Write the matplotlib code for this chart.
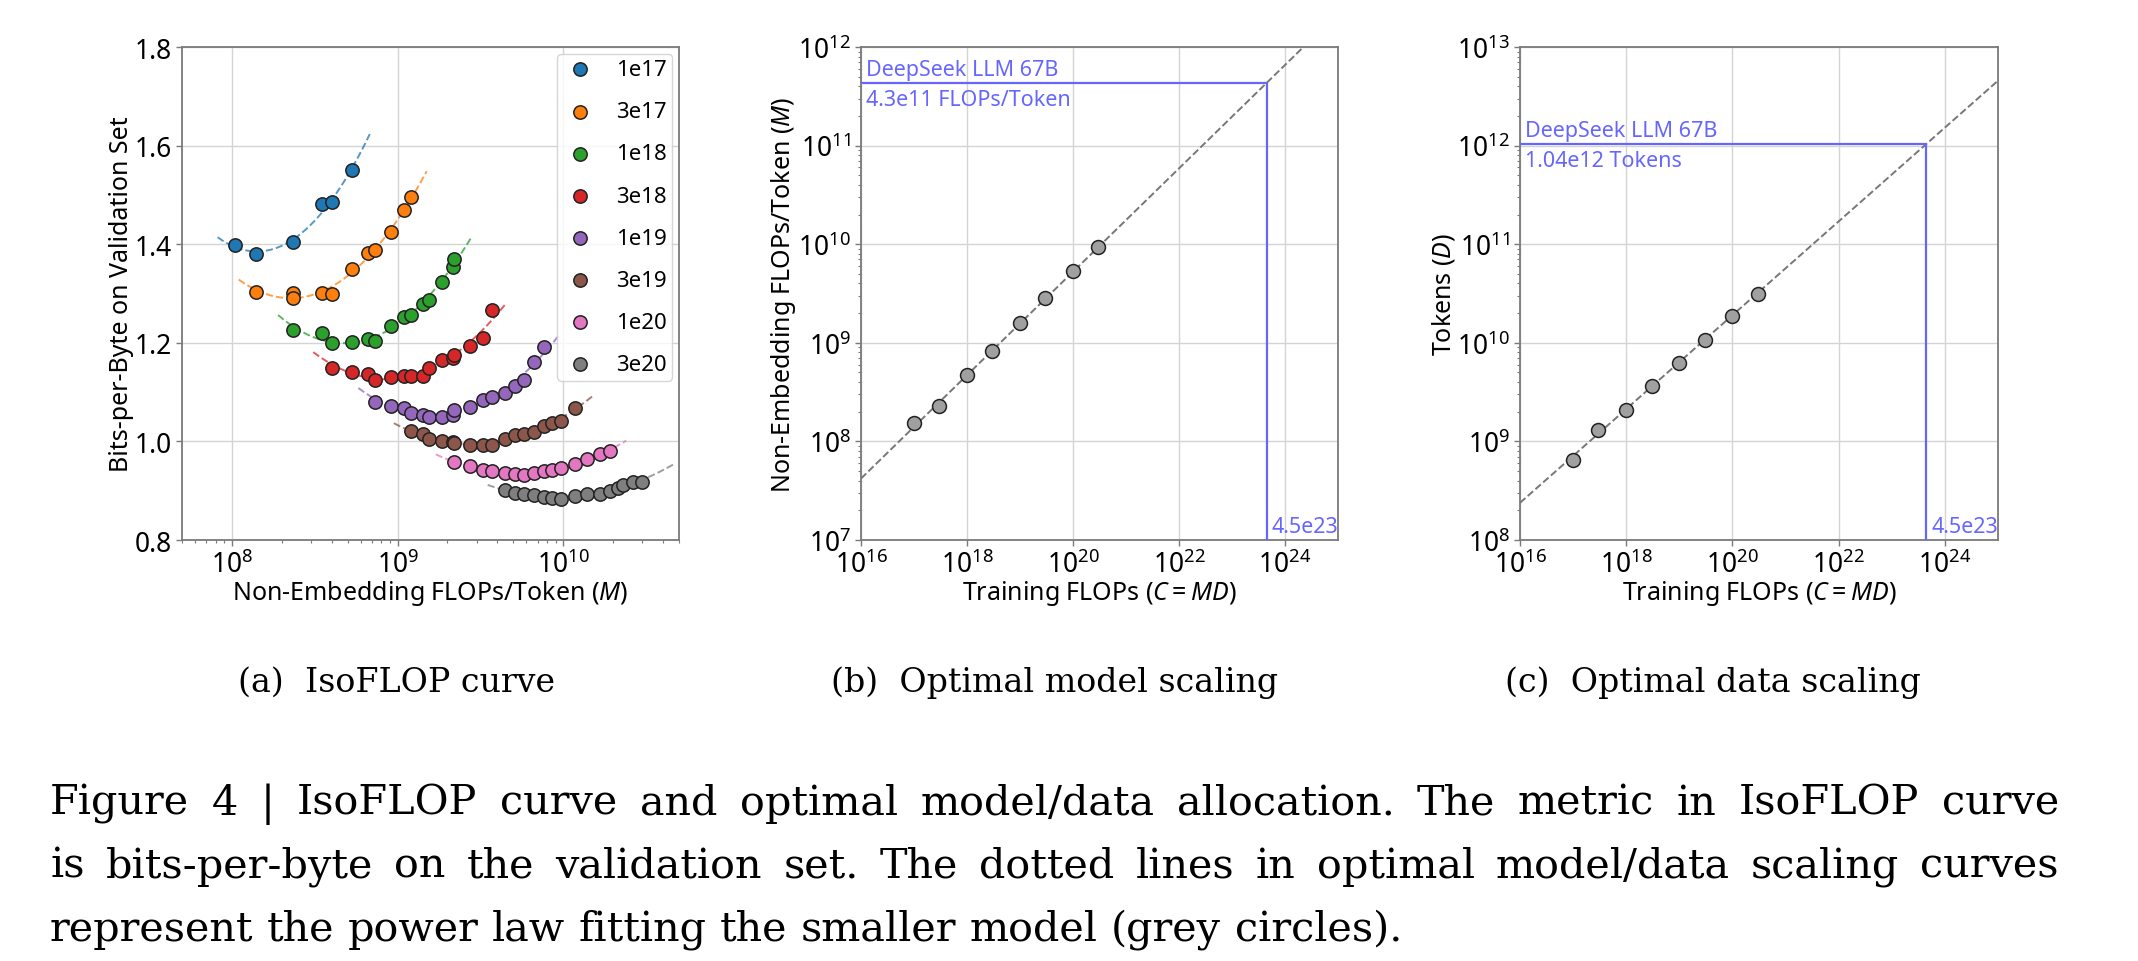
import numpy as np
import matplotlib
matplotlib.use("Agg")
import matplotlib.pyplot as plt
from matplotlib import ticker, transforms

plt.rcParams['font.family'] = ['Noto Sans', 'DejaVu Sans']
plt.rcParams['mathtext.fontset'] = 'custom'
plt.rcParams['mathtext.rm'] = 'Noto Sans'
plt.rcParams['mathtext.it'] = 'Noto Sans:italic'
plt.rcParams['mathtext.bf'] = 'Noto Sans:bold'

# ---- (a) IsoFLOP curves: model size (FLOPs/token) vs bits-per-byte ----
budgets = ['1e17', '3e17', '1e18', '3e18', '1e19', '3e19', '1e20', '3e20']
colors = ['tab:blue', 'tab:orange', 'tab:green', 'tab:red',
          'tab:purple', 'tab:brown', 'tab:pink', 'tab:gray']

m_1e17 = [1.04e8, 1.40e8, 2.35e8, 3.52e8, 4.02e8, 5.31e8]
bpb_1e17 = [1.398, 1.381, 1.404, 1.481, 1.485, 1.551]

m_3e17 = [1.40e8, 2.33e8, 2.35e8, 3.52e8, 4.02e8, 5.31e8, 6.61e8, 7.36e8, 9.16e8, 1.10e9, 1.21e9]
bpb_3e17 = [1.304, 1.301, 1.291, 1.302, 1.300, 1.349, 1.383, 1.388, 1.424, 1.470, 1.496]

m_1e18 = [2.35e8, 3.52e8, 4.02e8, 5.31e8, 6.61e8, 7.36e8, 9.16e8, 1.10e9, 1.21e9, 1.43e9,
          1.54e9, 1.85e9, 2.15e9, 2.18e9]
bpb_1e18 = [1.225, 1.219, 1.200, 1.201, 1.208, 1.204, 1.235, 1.252, 1.257, 1.278,
            1.286, 1.323, 1.354, 1.370]

m_3e18 = [4.02e8, 5.31e8, 6.61e8, 7.36e8, 9.16e8, 1.10e9, 1.21e9, 1.43e9, 1.54e9, 1.85e9,
          2.15e9, 2.18e9, 2.74e9, 3.27e9, 3.71e9]
bpb_3e18 = [1.149, 1.141, 1.137, 1.125, 1.130, 1.133, 1.132, 1.133, 1.148, 1.166,
            1.170, 1.175, 1.194, 1.209, 1.267]

m_1e19 = [7.36e8, 9.16e8, 1.10e9, 1.21e9, 1.43e9, 1.54e9, 1.85e9, 2.15e9, 2.18e9, 2.74e9,
          3.27e9, 3.71e9, 4.43e9, 5.14e9, 5.77e9, 6.71e9, 7.66e9]
bpb_1e19 = [1.079, 1.072, 1.067, 1.057, 1.054, 1.049, 1.050, 1.054, 1.064, 1.070,
            1.083, 1.091, 1.099, 1.113, 1.125, 1.161, 1.191]

m_3e19 = [1.21e9, 1.43e9, 1.54e9, 1.85e9, 2.15e9, 2.18e9, 2.74e9, 3.27e9, 3.71e9, 4.43e9,
          5.14e9, 5.77e9, 6.71e9, 7.66e9, 8.53e9, 9.75e9, 1.18e10]
bpb_3e19 = [1.021, 1.015, 1.005, 1.001, 0.999, 0.996, 0.993, 0.992, 0.993, 1.004,
            1.012, 1.015, 1.020, 1.032, 1.037, 1.041, 1.067]

m_1e20 = [2.18e9, 2.74e9, 3.27e9, 3.71e9, 4.43e9, 5.14e9, 5.77e9, 6.71e9, 7.66e9, 8.53e9,
          9.75e9, 1.18e10, 1.39e10, 1.67e10, 1.92e10]
bpb_1e20 = [0.958, 0.950, 0.943, 0.939, 0.936, 0.933, 0.932, 0.936, 0.940, 0.941,
            0.947, 0.954, 0.964, 0.975, 0.980]

m_3e20 = [4.43e9, 5.14e9, 5.77e9, 6.71e9, 7.66e9, 8.53e9, 9.75e9, 1.18e10, 1.39e10, 1.67e10,
          1.92e10, 2.14e10, 2.30e10, 2.64e10, 3.00e10]
bpb_3e20 = [0.901, 0.896, 0.894, 0.891, 0.887, 0.885, 0.883, 0.889, 0.893, 0.894,
            0.900, 0.905, 0.911, 0.917, 0.918]

# span of each dashed quadratic fit (FLOPs/token)
fit_start = [8.2e7, 1.1e8, 1.9e8, 3.1e8, 5.8e8, 9.5e8, 1.7e9, 3.5e9]
fit_end = [6.8e8, 1.5e9, 2.8e9, 4.5e9, 9.5e9, 1.5e10, 2.4e10, 4.6e10]

iso_m = [m_1e17, m_3e17, m_1e18, m_3e18, m_1e19, m_3e19, m_1e20, m_3e20]
iso_bpb = [bpb_1e17, bpb_3e17, bpb_1e18, bpb_3e18, bpb_1e19, bpb_3e19, bpb_1e20, bpb_3e20]

# ---- (b)/(c) optimal allocation per compute budget ----
compute = [1e17, 3e17, 1e18, 3e18, 1e19, 3e19, 1e20, 3e20]
opt_m = [1.53e8, 2.27e8, 4.75e8, 8.24e8, 1.58e9, 2.83e9, 5.34e9, 9.44e9]
opt_d = [6.45e8, 1.31e9, 2.09e9, 3.63e9, 6.25e9, 1.06e10, 1.88e10, 3.16e10]

# power law fits M = a*C^b, D = a*C^b
m_coef, m_exp = 0.1715, 0.5243
d_coef, d_exp = 5.8316, 0.4757

target_c = 4.5e23
target_m = 4.3e11
target_d = 1.04e12

W, H, DPI = 2138, 962, 100
fig = plt.figure(figsize=(W / DPI, H / DPI), dpi=DPI)
BLUE = '#6666ff'
LABEL_FS = 18
TICK_FS = 19
NOTE_FS = 15.5


def px_axes(left, top, right, bottom):
    return fig.add_axes([left / W, 1 - bottom / H, (right - left) / W, (bottom - top) / H])


def style(ax):
    ax.grid(True, which='major', color='#d4d4d4', linewidth=1.0)
    ax.set_axisbelow(True)
    for s in ax.spines.values():
        s.set_color('#7a7a7a')
        s.set_linewidth(1.3)
    ax.tick_params(which='both', colors='#7a7a7a', labelcolor='black', direction='out')
    ax.tick_params(which='major', labelsize=TICK_FS, length=4, width=1)
    ax.tick_params(which='minor', length=2.5, width=0.8)


ax1 = px_axes(182, 48, 679, 541)
ax2 = px_axes(861, 48, 1338, 541)
ax3 = px_axes(1520, 48, 1998, 541)

# (a)
for x, y, c, lab, x0, x1 in zip(iso_m, iso_bpb, colors, budgets, fit_start, fit_end):
    coef = np.polyfit(np.log10(x), y, 2)
    xs = np.logspace(np.log10(x0), np.log10(x1), 200)
    ax1.plot(xs, np.polyval(coef, np.log10(xs)), '--', color=c, alpha=0.75, lw=1.4, zorder=2)
    ax1.scatter(x, y, s=92, color=c, edgecolors='#222222', linewidths=1.1, label=lab, zorder=3)
ax1.set_xscale('log')
ax1.set_xlim(5e7, 5e10)
ax1.set_ylim(0.8, 1.8)
ax1.set_yticks(np.arange(0.8, 1.81, 0.2))
ax1.yaxis.set_major_formatter(ticker.FormatStrFormatter('%.1f'))
ax1.set_xlabel('Non-Embedding FLOPs/Token ($M$)', fontsize=LABEL_FS, labelpad=-1)
ax1.set_ylabel('Bits-per-Byte on Validation Set', fontsize=LABEL_FS, labelpad=0)
style(ax1)
ax1.legend(loc='upper right', fontsize=16, labelspacing=0.95, handletextpad=0.8,
           borderpad=0.25, borderaxespad=0.3, handlelength=1.6)


def scaling_panel(ax, yvals, coef, expo, target, ylim, ylabel, label):
    cs = np.logspace(16, 25, 300)
    ax.plot(cs, coef * cs ** expo, '--', color='#777777', lw=1.4, zorder=2)
    ax.scatter(compute, yvals, s=100, color='#a0a0a0', edgecolors='#222222', linewidths=1.1, zorder=3)
    ax.set_xscale('log')
    ax.set_yscale('log')
    ax.set_xlim(1e16, 1e25)
    ax.set_ylim(*ylim)
    ax.set_xticks([1e16, 1e18, 1e20, 1e22, 1e24])
    ax.xaxis.set_minor_locator(ticker.NullLocator())
    ax.hlines(target, 1e16, target_c, color=BLUE, lw=1.6, zorder=4)
    ax.vlines(target_c, ylim[0], target, color=BLUE, lw=1.6, zorder=4)
    ty = transforms.blended_transform_factory(ax.transAxes, ax.transData)
    tx = transforms.blended_transform_factory(ax.transData, ax.transAxes)
    ax.annotate('DeepSeek LLM 67B', xy=(0, target), xycoords=ty, xytext=(3.5, 2),
                textcoords='offset points', color=BLUE, fontsize=NOTE_FS, va='bottom')
    ax.annotate(label, xy=(0, target), xycoords=ty, xytext=(3.5, -4.5),
                textcoords='offset points', color=BLUE, fontsize=NOTE_FS, va='top')
    ax.annotate('4.5e23', xy=(target_c, 0), xycoords=tx, xytext=(3.5, 6),
                textcoords='offset points', color=BLUE, fontsize=NOTE_FS, va='baseline')
    ax.set_xlabel('Training FLOPs ($C = MD$)', fontsize=LABEL_FS, labelpad=-1)
    ax.set_ylabel(ylabel, fontsize=LABEL_FS, labelpad=0)
    style(ax)


scaling_panel(ax2, opt_m, m_coef, m_exp, target_m, (1e7, 1e12),
              'Non-Embedding FLOPs/Token ($M$)', '4.3e11 FLOPs/Token')
scaling_panel(ax3, opt_d, d_coef, d_exp, target_d, (1e8, 1e13),
              'Tokens ($D$)', '1.04e12 Tokens')

# captions (serif, sized to the reference widths)
SERIF = 'DejaVu Serif'
renderer = fig.canvas.get_renderer()


def text_width(s, size):
    t = fig.text(0, 0, s, family=SERIF, fontsize=size)
    w = t.get_window_extent(renderer).width
    t.remove()
    return w


sub_fs = 28 * 317 / text_width('(a)  IsoFLOP curve', 28)
for cx, txt in [(397, '(a)  IsoFLOP curve'), (1055, '(b)  Optimal model scaling'),
                (1713, '(c)  Optimal data scaling')]:
    fig.text(cx / W, 1 - 692 / H, txt, family=SERIF, fontsize=sub_fs, ha='center', va='baseline')

cap_lines = [
    'Figure 4 | IsoFLOP curve and optimal model/data allocation.  The metric in IsoFLOP curve',
    'is bits-per-byte on the validation set. The dotted lines in optimal model/data scaling curves',
    'represent the power law fitting the smaller model (grey circles).',
]
cap_base = [815, 878, 941]
cap_x0, cap_x1 = 50, 2059
cap_fs = 30 * 1352 / text_width(cap_lines[2], 30)
for i, (line, yb) in enumerate(zip(cap_lines, cap_base)):
    words = line.split()
    texts = [fig.text(0, 1 - yb / H, w, family=SERIF, fontsize=cap_fs, va='baseline') for w in words]
    widths = [t.get_window_extent(renderer).width for t in texts]
    if i < 2:
        gap = (cap_x1 - cap_x0 - sum(widths)) / (len(words) - 1)
    else:
        gap = (1352 - sum(widths)) / (len(words) - 1)
    x = cap_x0
    for t, w in zip(texts, widths):
        t.set_x(x / W)
        x += w + gap

fig.savefig('out.png', dpi=DPI)
